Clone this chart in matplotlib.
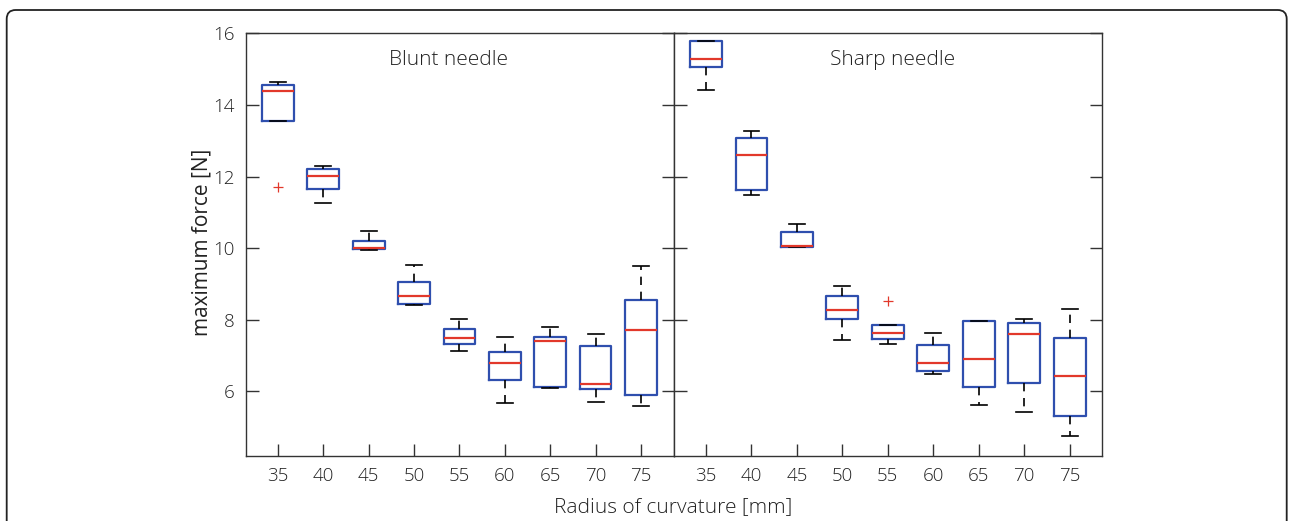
import matplotlib
matplotlib.use("Agg")
import matplotlib.pyplot as plt
from matplotlib.patches import FancyBboxPatch
from matplotlib.transforms import IdentityTransform

plt.rcParams['font.family'] = ['Open Sans', 'DejaVu Sans']
plt.rcParams['font.weight'] = 'light'

radius = [35, 40, 45, 50, 55, 60, 65, 70, 75]

# blunt needle
blunt_whishi = [14.65, 12.30, 10.48, 9.52, 8.01, 7.52, 7.79, 7.60, 9.49]
blunt_q3 = [14.57, 12.20, 10.21, 9.04, 7.75, 7.10, 7.52, 7.27, 8.54]
blunt_med = [14.38, 12.01, 10.00, 8.65, 7.48, 6.78, 7.41, 6.20, 7.70]
blunt_q1 = [13.55, 11.66, 9.97, 8.45, 7.33, 6.32, 6.13, 6.07, 5.90]
blunt_whislo = [13.55, 11.26, 9.94, 8.42, 7.13, 5.67, 6.09, 5.71, 5.58]
blunt_fliers = [[11.71], [], [], [], [], [], [], [], []]

# sharp needle
sharp_whishi = [15.79, 13.27, 10.67, 8.93, 7.85, 7.64, 7.96, 8.03, 8.29]
sharp_q3 = [15.79, 13.08, 10.46, 8.67, 7.85, 7.30, 7.96, 7.91, 7.49]
sharp_med = [15.29, 12.59, 10.05, 8.27, 7.63, 6.79, 6.89, 7.61, 6.42]
sharp_q1 = [15.05, 11.61, 10.02, 8.03, 7.45, 6.56, 6.12, 6.22, 5.31]
sharp_whislo = [14.42, 11.48, 10.02, 7.42, 7.33, 6.48, 5.62, 5.41, 4.75]
sharp_fliers = [[], [], [], [], [8.52], [], [], [], []]

BLUE = '#2f4fae'
RED = '#e2382b'
DARK = '#333333'
TXT = '#222222'


def make_stats(whislo, q1, med, q3, whishi, fliers):
    return [dict(whislo=a, q1=b, med=c, q3=d, whishi=e, fliers=f)
            for a, b, c, d, e, f in zip(whislo, q1, med, q3, whishi, fliers)]


def draw_panel(ax, stats, title, title_x):
    ax.bxp(stats, positions=range(1, len(stats) + 1), widths=0.7,
           showfliers=True,
           boxprops=dict(color=BLUE, linewidth=1.6),
           medianprops=dict(color=RED, linewidth=1.6),
           whiskerprops=dict(color='black', linewidth=1.2, linestyle=(0, (5, 4))),
           capprops=dict(color='black', linewidth=1.2),
           capwidths=0.35,
           flierprops=dict(marker='+', markeredgecolor=RED, markersize=7,
                           markeredgewidth=0.9, linestyle='none'))
    ax.set_xlim(0.29, 9.72)
    ax.set_ylim(4.2, 16)
    ax.set_xticks(range(1, 10))
    ax.set_xticklabels([str(r) for r in radius])
    ax.set_yticks([6, 8, 10, 12, 14, 16])
    ax.tick_params(direction='in', length=9, width=1, color=DARK,
                   labelsize=13.5, labelcolor=TXT, pad=8,
                   left=True, right=True, top=False)
    for s in ax.spines.values():
        s.set_color(DARK)
        s.set_linewidth(1.0)
    ax.text(title_x, 0.937, title, transform=ax.transAxes, ha='center',
            va='center', fontsize=15, color=TXT)


fig = plt.figure(figsize=(12.89, 5.21), dpi=100)
ax1 = fig.add_axes([0.1906, 0.1253, 0.3320, 0.8107])
ax2 = fig.add_axes([0.5227, 0.1253, 0.3325, 0.8107])

draw_panel(ax1, make_stats(blunt_whislo, blunt_q1, blunt_med, blunt_q3,
                           blunt_whishi, blunt_fliers), 'Blunt needle', 0.475)
draw_panel(ax2, make_stats(sharp_whislo, sharp_q1, sharp_med, sharp_q3,
                           sharp_whishi, sharp_fliers), 'Sharp needle', 0.51)
ax2.tick_params(labelleft=False)

ax1.set_ylabel('maximum force [N]', fontsize=15, color=TXT)
ax1.yaxis.set_label_coords(-0.077, 0.506)
fig.text(673 / 1289, 1 - 507 / 521, 'Radius of curvature [mm]', ha='center',
         va='center', fontsize=15, color=TXT)

# rounded frame around the figure
frame = FancyBboxPatch((6.7, -40), 1280, 551, boxstyle='round,pad=0,rounding_size=9',
                       transform=IdentityTransform(), facecolor='none',
                       edgecolor=TXT, linewidth=1.3)
fig.add_artist(frame)

fig.savefig('out.png', dpi=100)
